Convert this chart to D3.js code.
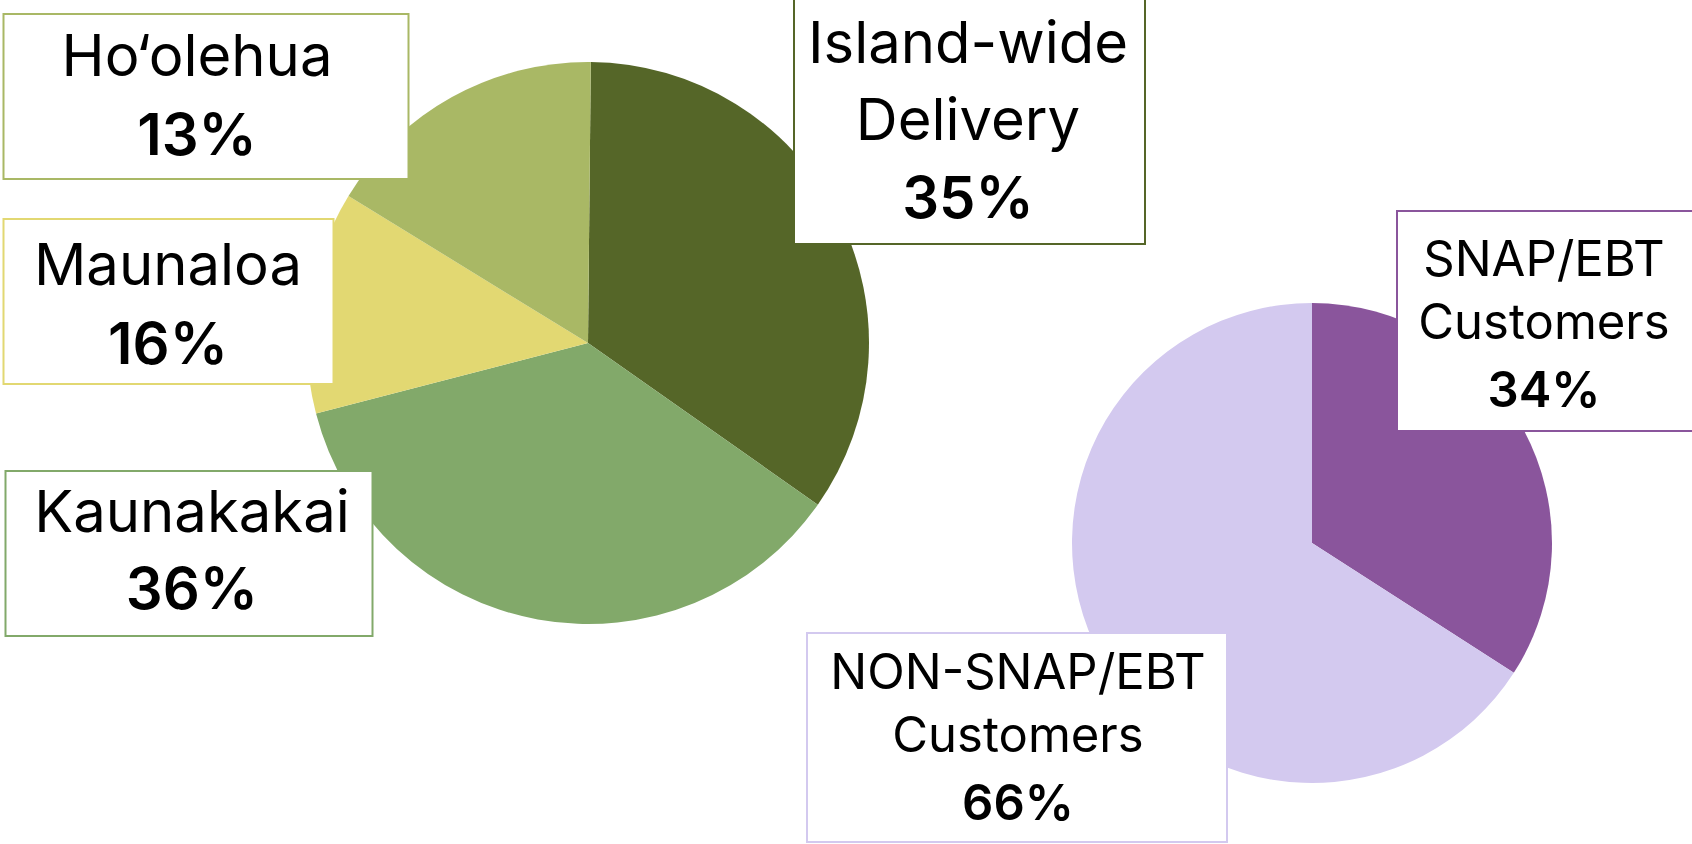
<!DOCTYPE html>
<html>
<head>
<meta charset="utf-8">
<script src="https://cdn.jsdelivr.net/npm/d3@7"></script>
<style>
  html, body { margin: 0; padding: 0; background: #fff; overflow: hidden; }
  text { font-family: Inter, "Noto Sans", sans-serif; fill: #000; }
</style>
</head>
<body>
<div id="chart"></div>
<script>
// sales share by pickup site, and by customer type

const sites = ["Island-wide Delivery", "Kaunakakai", "Maunaloa", "Ho\u2018olehua"];
const siteShare = [34.6, 36.2, 12.8, 16.4];          // slice sizes as drawn
const siteLabel = ["35%", "36%", "16%", "13%"];       // as printed in the boxes
const siteColors = ["#556628", "#82a96a", "#e2d872", "#a9b865"];

const customers = ["SNAP/EBT Customers", "NON-SNAP/EBT Customers"];
const customerShare = [34.1, 65.9];
const customerLabel = ["34%", "66%"];
const customerColors = ["#8a559c", "#d3c9ef"];

const width = 1692, height = 844;

const svg = d3.select("#chart")
  .append("svg")
  .attr("width", width)
  .attr("height", height);

// label boxes: rect + text lines, one entry per slice
const siteBoxes = [
  { x: 794, y: -4, w: 351, h: 248, cx: 968, lines: ["Island-wide", "Delivery"], base: [63, 140, 218], size: 58 },
  { x: 5.5, y: 471, w: 367, h: 165, cx: 192, lines: ["Kaunakakai"], base: [532, 609], size: 58 },
  { x: 3.5, y: 219, w: 330, h: 165, cx: 168, lines: ["Maunaloa"], base: [285, 364], size: 58 },
  { x: 3.5, y: 14, w: 405, h: 165, cx: 197, lines: ["Ho\u2018olehua"], base: [76, 155], size: 58 }
];
const customerBoxes = [
  { x: 1397, y: 211, w: 310, h: 220, cx: 1544, lines: ["SNAP/EBT", "Customers"], base: [276, 339, 407], size: 49 },
  { x: 807, y: 633, w: 420, h: 209, cx: 1018, lines: ["NON-SNAP/EBT", "Customers"], base: [689, 752, 820], size: 49 }
];

function drawPie(values, colors, cx, cy, r, start) {
  const pie = d3.pie().sort(null).value(d => d)
    .startAngle(start).endAngle(start + 2 * Math.PI);
  const arc = d3.arc().innerRadius(0).outerRadius(r);

  svg.append("g")
    .attr("transform", `translate(${cx},${cy})`)
    .selectAll("path")
    .data(pie(values))
    .enter().append("path")
    .attr("d", arc)
    .attr("fill", (d, i) => colors[i]);
}

function drawBoxes(boxes, pct, colors) {
  const g = svg.append("g");
  boxes.forEach((b, i) => {
    g.append("rect")
      .attr("x", b.x).attr("y", b.y)
      .attr("width", b.w).attr("height", b.h)
      .attr("fill", "#fff")
      .attr("stroke", colors[i])
      .attr("stroke-width", 2);

    b.lines.forEach((t, j) => {
      g.append("text")
        .attr("x", b.cx).attr("y", b.base[j])
        .attr("text-anchor", "middle")
        .style("font-size", b.size + "px")
        .text(t);
    });

    g.append("text")
      .attr("x", b.cx).attr("y", b.base[b.lines.length])
      .attr("text-anchor", "middle")
      .style("font-size", b.size + "px")
      .style("font-weight", 600)
      .text(pct[i]);
  });
}

drawPie(siteShare, siteColors, 588, 343, 281, 0.01);
drawPie(customerShare, customerColors, 1312, 543, 240, 0);

drawBoxes(siteBoxes, siteLabel, siteColors);
drawBoxes(customerBoxes, customerLabel, customerColors);
</script>
</body>
</html>
